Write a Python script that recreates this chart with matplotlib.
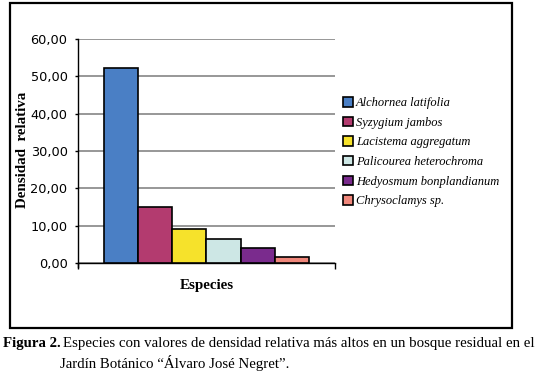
import matplotlib.pyplot as plt
from matplotlib.patches import Rectangle

# datos
especies = ["Alchornea latifolia", "Syzygium jambos", "Lacistema aggregatum",
            "Palicourea heterochroma", "Hedyosmum bonplandianum", "Chrysoclamys sp."]
densidad = [52.2, 15.0, 9.2, 6.5, 3.9, 1.7]
colores = ["#4A7FC5", "#B33B6F", "#F6E22B", "#CDE7E5", "#7A2B8D", "#F0877B"]
yticks = [0, 10, 20, 30, 40, 50, 60]

W, H = 538, 372
fig = plt.figure(figsize=(W / 100, H / 100), dpi=100)

# marco exterior del grafico
fig.patches.append(Rectangle((10 / W, 1 - 328 / H), 502 / W, 325 / H,
                             transform=fig.transFigure, fill=False,
                             edgecolor="black", linewidth=1.6))

ax = fig.add_axes([78 / W, 1 - 263 / H, 257 / W, 224 / H])
n = len(especies)
bars = []
for i, (esp, val, col) in enumerate(zip(especies, densidad, colores)):
    b = ax.bar(i - (n - 1) / 2, val, width=1.0, color=col, edgecolor="black",
               linewidth=1.2, label=esp, zorder=3)
    bars.append(b)

ax.set_ylim(0, 60)
ax.set_xlim(-n / 2 - 0.76, n / 2 + 0.76)
ax.set_yticks(yticks)
ax.set_yticklabels([f"{v:.2f}".replace(".", ",") for v in yticks],
                   fontsize=9.3, family="DejaVu Sans")
ax.yaxis.grid(True, color="#7a7a7a", linewidth=1.1, zorder=0)
ax.set_xticks(ax.get_xlim())
ax.set_xticklabels([])
ax.tick_params(axis="x", direction="out", length=4.5, width=1, color="black")
ax.tick_params(axis="y", direction="out", length=2.5, width=1, color="black", pad=5)
for s in ["top", "right"]:
    ax.spines[s].set_visible(False)
ax.spines["left"].set_bounds(-1.2, 60)
ax.spines["left"].set_linewidth(1)
ax.spines["bottom"].set_linewidth(1)

# titulos de ejes
fig.text(23 / W, 1 - 150 / H, "Densidad  relativa", rotation=90, fontsize=10.8,
         fontweight="bold", family="Liberation Serif", ha="center", va="center")
fig.text(207 / W, 1 - 285 / H, "Especies", fontsize=10.8, fontweight="bold",
         family="Liberation Serif", ha="center", va="center")

fig.legend(handles=bars, labels=especies, loc="upper left",
           bbox_to_anchor=(343 / W, 1 - 97 / H), frameon=False,
           prop={"family": "Liberation Serif", "style": "italic", "size": 9.0},
           handlelength=0.8, handleheight=0.8, handletextpad=0.25,
           labelspacing=0.6, borderaxespad=0, borderpad=0)

# pie de figura
fig.text(3 / W, 1 - 344 / H, "Figura 2.", fontsize=10.7, fontweight="bold",
         family="Liberation Serif", va="center")
fig.text(63 / W, 1 - 344 / H,
         "Especies con valores de densidad relativa más altos en un bosque residual en el",
         fontsize=10.7, family="Liberation Serif", va="center")
fig.text(60 / W, 1 - 363 / H, "Jardín Botánico “Álvaro José Negret”.",
         fontsize=10.7, family="Liberation Serif", va="center")

fig.savefig("out.png", dpi=100)
